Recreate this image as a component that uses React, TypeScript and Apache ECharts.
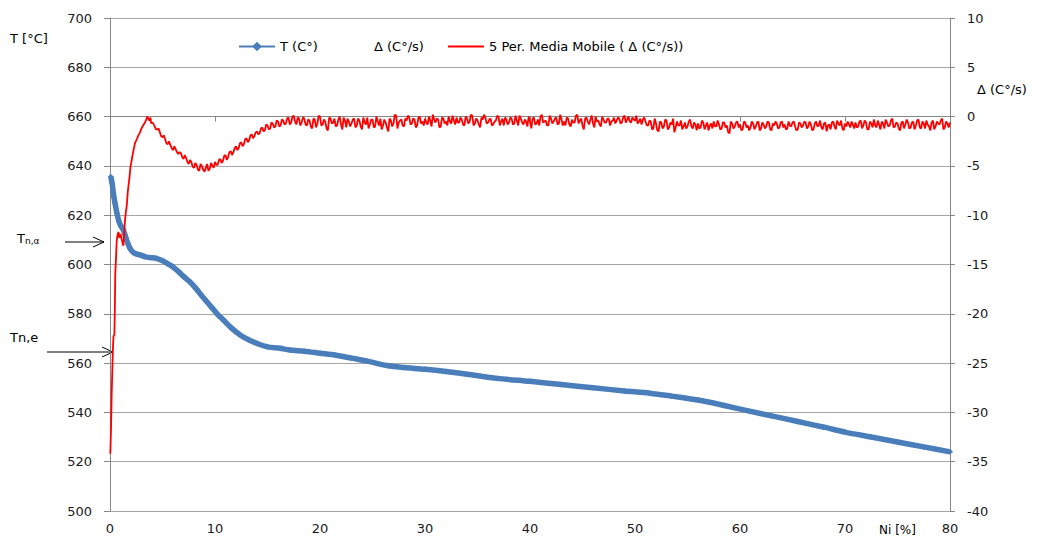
import React, { useEffect, useRef } from "react";
import * as echarts from "echarts";

const FONT = "DejaVu Sans";

// T (C°) vs Ni [%]
const tempSeries: [number, number][] = [
  [0.07, 635.6], [0.2, 633], [0.35, 628], [0.48, 624.8], [0.65, 621], [0.85, 617.5],
  [1.05, 615.5], [1.27, 614], [1.5, 611], [1.7, 608.5], [1.9, 606.6], [2.2, 605],
  [2.5, 604.3], [2.86, 603.9], [3.3, 603.2], [3.8, 602.8], [4.4, 602.5], [5.0, 601.5],
  [5.5, 600.3], [6.0, 599], [6.5, 597.2], [7.0, 595.2], [7.6, 593], [8.2, 590.2],
  [8.7, 587.5], [9.2, 585], [9.7, 582.5], [10.2, 580], [10.8, 577.5], [11.5, 574.5],
  [12.4, 571.4], [13.2, 569.5], [14, 568], [15, 566.6], [16.2, 566], [17.1, 565.3],
  [18.5, 564.8], [20, 564], [21.5, 563.2], [23, 562], [24.5, 560.8], [26.5, 558.9],
  [28, 558.2], [30, 557.5], [32, 556.6], [34, 555.5], [36.9, 553.8], [40, 552.6],
  [43, 551.3], [46, 550], [49, 548.7], [51.4, 547.8], [53.5, 546.6], [56, 545],
  [58.5, 542.8], [60.9, 540.5], [63, 538.6], [65.5, 536.3], [68, 534], [70, 532],
  [72.5, 530], [75, 528], [77.5, 526], [80, 524],
];

// 5 Per. Media Mobile (Δ (C°/s)) – initial transient, irregular samples
const movAvgStart: [number, number][] = [
  [0.03, -34.2], [0.1, -31.5], [0.16, -28.0], [0.22, -25.8], [0.28, -23.5], [0.33, -22.3],
  [0.42, -22.1], [0.46, -19.5], [0.5, -16.0], [0.56, -14.6], [0.64, -12.6], [0.72, -12.0],
  [0.8, -11.7], [0.9, -12.3], [1.0, -11.9], [1.1, -12.4], [1.2, -12.8], [1.27, -13.1],
  [1.35, -11.8], [1.43, -10.5], [1.52, -9.6], [1.6, -9.0], [1.68, -7.8], [1.75, -7.1],
  [1.85, -6.2], [1.95, -5.1], [2.07, -4.4], [2.2, -3.6], [2.38, -2.7], [2.55, -2.3],
  [2.7, -1.9], [2.86, -1.6], [3.0, -1.2], [3.15, -0.9], [3.33, -0.6], [3.45, -0.3],
  [3.55, 0.0], [3.65, -0.2], [3.75, -0.4], [3.85, -0.1], [3.92, -0.7],
];

// 5 Per. Media Mobile – values read every 0.25 Ni from 4.0 to 80
const movAvgFrom = 4.0;
const movAvgStep = 0.25;
const movAvgValues: number[] = [
  -0.6, -1.0, -1.3, -1.6, -2.1, -2.3, -2.8,
  -2.9, -3.4, -3.3, -3.8, -3.7, -4.3, -4.2, -4.8,
  -4.6, -5.2, -4.9, -5.5, -5.0, -5.6, -4.8, -5.3, -5.0, -4.6,
  -4.9, -4.3, -4.5, -3.9, -4.1, -3.5, -3.6, -3.0,
  -3.2, -2.6, -2.8, -2.2, -2.4, -1.8, -2.0, -1.5,
  -1.7, -1.1, -1.4, -0.9, -1.2, -0.7, -1.0, -0.5, -0.9, -0.4,
  -0.7, -0.1, -0.6, 0.1, -0.8, -0.2,
  -0.6, -0.2, -0.9, -0.4, -1.2, -0.3, -0.7, 0.0, -0.8, -0.5, -1.4, -0.2, -0.6, -1.0, -0.3, -0.8, -0.1, -1.1, -0.5, -0.7,
  -0.2, -0.9, -0.4, -1.3, -0.6, -0.1, -0.8, -0.3, -1.0, -0.5, -0.2, -0.9, -0.6, -1.5, -0.4, -0.7, 0.1, -0.6, -0.3, -1.0,
  -0.4, -0.1, -0.7, -0.3, -0.9, 0.0, -0.5, -0.2, -0.8, -0.4, 0.2, -0.6, -0.3, -1.0, -0.2, -0.5, 0.0, -0.7, -0.4, -0.1,
  -0.6, -0.3, -0.9, -0.2, -0.5, 0.1, -0.7, -0.4, -1.1, -0.3, -0.1, -0.6, -0.2, -0.8, -0.4, 0.0, -0.5, -0.9, -0.3, -0.6,
  -0.2, -0.7, -0.4, 0.1, -0.6, -0.3, -1.0, -0.5, -0.2, -0.8, -0.3, 0.0, -0.6, -0.4, -0.9, -0.2, -0.5, -0.1, -0.7, -0.3,
  -0.5, -0.1, -0.8, -0.3, -0.6, 0.2, -0.4, -0.9, -0.2, -0.5, -0.3, -0.7, 0.0, -0.4, -1.0, -0.3, -0.6, -0.2, -0.5, -0.1,
  -0.4, -0.2, -0.6, 0.1, -0.3, -0.5, -0.1, -0.4, -0.7, -0.2, -0.3, -0.5,
  -0.9, -0.5, -1.2, -0.7, -1.5, -0.6, -1.0, -0.4, -1.1, -0.8, -1.6, -0.5, -0.9, -1.3, -0.6, -1.0, -0.3, -1.2, -0.8, -0.7,
  -1.1, -0.6, -0.9, -1.4, -0.7, -0.5, -1.0, -0.8, -1.2, -0.6, -0.9, -1.7, -0.7, -1.0, -0.5, -0.8, -1.3, -0.6, -0.9, -1.1,
  -0.7, -1.0, -0.5, -1.2, -0.8, -1.0, -0.6, -1.4, -0.9, -0.7, -1.1, -0.5, -0.8, -1.2, -0.9, -0.6, -1.0, -1.3, -0.7, -0.9,
  -0.6, -1.0, -0.8, -1.3, -0.5, -0.9, -1.1, -0.7, -1.5, -0.8, -0.6, -1.0, -0.4, -0.9, -1.2, -0.7, -0.5, -1.1, -0.8, -0.6,
  -1.0, -0.4, -0.9, -0.6, -1.3, -0.7, -0.3, -1.1, -0.8, -0.5, -1.2, -0.6, -0.9, -0.2, -1.0, -0.7, -1.4, -0.5, -0.8, -0.6,
  -1.1, -0.5, -0.9, -0.3, -1.2, -0.7, -0.4, -1.0, -0.6, -1.3, -0.5, -0.8, -0.2, -1.1, -0.7, -0.6,
];

// 5 Per. Media Mobile – values read half-way between the samples above
const movAvgMidValues: number[] = [
  -0.7, -1.3, -1.2, -2.0, -1.9, -2.7, -2.5,
  -3.2, -3.0, -3.6, -3.6, -4.1, -3.9, -4.6, -4.4,
  -5.1, -4.7, -5.4, -4.8, -5.4, -5.2, -5.5, -4.7, -5.2, -4.9,
  -4.4, -4.7, -4.0, -4.4, -3.6, -3.9, -3.2, -3.4,
  -2.7, -3.0, -2.3, -2.6, -1.9, -2.2, -1.6, -1.8,
  -1.2, -1.5, -0.8, -1.3, -0.6, -1.1, -0.4, -1.0, -0.3, -0.8,
  -0.2, -0.8, 0.0, -0.5, -0.1, -0.9,
  -0.1, -0.8, -0.3, -1.0, -0.2, -1.1, 0.1, -0.9, -0.3, -1.2, -0.1, -0.7, -0.2, -0.9, 0.0, -1.3, -0.4, -0.2, -1.0, -0.3,
  -1.1, -0.2, -1.0, -0.1, -0.8, -1.2, -0.3, -1.1, 0.0, -0.9, -1.3, -0.3, -1.1, -0.2, -1.0, 0.2, -1.2, -0.4, -0.9, -0.2,
  0.1, -0.8, -0.2, -1.1, -0.1, -0.7, -0.9, -0.6, 0.0, -1.0, -0.3, -0.2, -1.1, -0.1, -0.7, -0.9, -0.5, 0.1, -0.8, -0.6,
  -0.1, -0.8, 0.0, -0.7, 0.2, -0.9, -0.2, -0.8, -0.1, 0.2, -0.7, -0.3, -0.9, -0.5, 0.1, -0.9, -0.2, -0.1, -0.8, -0.1,
  -0.8, 0.1, -0.9, -0.2, -0.8, -0.5, 0.0, -1.2, -0.1, -0.7, -0.9, 0.2, -0.5, -0.9, 0.1, -0.7, -0.2, -0.8, 0.2, -0.9,
  -0.9, -0.2, -1.0, -0.6, 0.1, -0.7, -0.2, -1.3, -0.1, -0.8, 0.1, -1.1, -0.5, -0.8, 0.0, -0.6, -0.2, -0.9, -0.4, -0.7,
  -0.1, -0.7, -0.1, -0.6, 0.0, -0.6, -0.3, 0.1, -0.5, -0.8, -0.1, -0.9,
  -0.4, -1.3, -0.2, -1.4, -0.5, -1.2, -0.3, -1.3, -0.6, -0.2, -1.1, -0.9, -0.4, -1.0, -1.2, -0.5, -1.0, -0.6, -1.4, -1.2,
  -0.4, -1.3, -0.6, -0.9, -1.2, -1.0, -0.4, -1.3, -0.6, -1.1, -1.6, -0.5, -1.2, -0.6, -1.1, -1.4, -0.5, -1.1, -1.4, -0.5,
  -1.3, -0.6, -1.4, -0.6, -1.2, -0.5, -1.3, -0.7, -0.5, -1.2, -0.6, -1.1, -1.3, -0.5, -1.0, -0.5, -1.4, -0.6, -1.1, -0.5,
  -1.2, -0.5, -1.4, -0.7, -1.0, -0.4, -1.3, -0.6, -0.9, -1.3, -0.5, -1.3, -0.7, -0.4, -1.4, -1.0, -0.8, -0.5, -1.2, -1.1,
  -0.5, -1.2, -0.4, -1.3, -0.5, -1.1, -0.9, -0.4, -1.3, -0.7, -0.3, -1.0, -0.4, -1.1, -0.6, -1.2, -0.6, -1.2, -0.3, -1.2,
  -0.6, -1.3, -0.4, -1.1, -0.5, -1.2, -0.8, -1.4, -0.4, -1.0, -0.7, -0.4, -1.3, -0.5, -1.1,
];

const legendNames = ["T (C°)", "Δ (C°/s)", "5 Per. Media Mobile ( Δ (C°/s))"];

const leftAxis = { min: 500, max: 700, interval: 20 };
const rightAxis = { min: -40, max: 10, interval: 5 };
const bottomAxis = { min: 0, max: 80, interval: 10 };

export default function App() {
  const ref = useRef<HTMLDivElement>(null);

  useEffect(() => {
    if (!ref.current) return;
    const chart = echarts.init(ref.current, null, { renderer: "svg" });

    const movAvg: [number, number][] = [...movAvgStart];
    movAvgValues.forEach((v, i) => {
      const x = movAvgFrom + i * movAvgStep;
      movAvg.push([x, v]);
      if (i < movAvgMidValues.length) movAvg.push([x + movAvgStep / 2, movAvgMidValues[i]]);
    });

    const axisGray = "#868686";
    const labelStyle = { fontFamily: FONT, fontSize: 13, color: "#1a1a1a" };
    const legendBase = {
      top: 40,
      padding: 0,
      itemWidth: 36,
      itemHeight: 12,
      textStyle: { fontFamily: FONT, fontSize: 13, color: "#000" },
    };

    chart.setOption({
      animation: false,
      backgroundColor: "#ffffff",
      grid: { left: 110, right: 104, top: 18, bottom: 32, containLabel: false },
      legend: [
        { ...legendBase, left: 238, data: [{ name: legendNames[0] }] },
        {
          ...legendBase,
          left: 332,
          data: [{ name: legendNames[1], itemStyle: { opacity: 0 }, lineStyle: { opacity: 0 } }],
        },
        {
          ...legendBase,
          left: 447,
          data: [{ name: legendNames[2], itemStyle: { opacity: 0 } }],
        },
      ],
      xAxis: {
        type: "value",
        min: bottomAxis.min,
        max: bottomAxis.max,
        interval: bottomAxis.interval,
        axisLine: { show: true, lineStyle: { color: axisGray, width: 1 } },
        axisTick: { show: true, length: 5, lineStyle: { color: axisGray } },
        axisLabel: { ...labelStyle, margin: 11 },
        splitLine: { show: false },
      },
      yAxis: [
        {
          type: "value",
          position: "left",
          min: leftAxis.min,
          max: leftAxis.max,
          interval: leftAxis.interval,
          axisLine: { show: true, lineStyle: { color: axisGray, width: 1 } },
          axisTick: { show: true, length: 6, lineStyle: { color: axisGray } },
          axisLabel: { ...labelStyle, margin: 18 },
          splitLine: { show: true, lineStyle: { color: "#a6a6a6", width: 1 } },
        },
        {
          type: "value",
          position: "right",
          min: rightAxis.min,
          max: rightAxis.max,
          interval: rightAxis.interval,
          axisLine: { show: true, lineStyle: { color: axisGray, width: 1 } },
          axisTick: { show: true, length: 5, lineStyle: { color: axisGray } },
          axisLabel: { ...labelStyle, margin: 17 },
          splitLine: { show: false },
        },
      ],
      series: [
        {
          name: legendNames[0],
          type: "line",
          yAxisIndex: 0,
          data: tempSeries,
          symbol: "diamond",
          symbolSize: 6,
          showAllSymbol: true,
          smooth: 0.3,
          color: "#4a7ebb",
          itemStyle: { color: "#4a7ebb" },
          lineStyle: { color: "#4a7ebb", width: 5.5 },
          z: 2,
        },
        {
          name: legendNames[1],
          type: "line",
          yAxisIndex: 1,
          data: [],
          symbol: "none",
          color: "rgba(0,0,0,0)",
          lineStyle: { opacity: 0 },
        },
        {
          name: legendNames[2],
          type: "line",
          yAxisIndex: 1,
          data: movAvg,
          symbol: "none",
          color: "#ff0000",
          lineStyle: { color: "#ff0000", width: 1.8 },
          z: 3,
        },
      ],
      graphic: [
        {
          type: "text",
          left: 10,
          top: 32,
          style: { text: "T [°C]", fontFamily: FONT, fontSize: 13, fill: "#000" },
        },
        {
          type: "text",
          left: 977,
          top: 83,
          style: { text: "Δ (C°/s)", fontFamily: FONT, fontSize: 13, fill: "#000" },
        },
        {
          type: "text",
          left: 879,
          top: 524,
          style: { text: "Ni [%]", fontFamily: FONT, fontSize: 12, fill: "#000" },
        },
        {
          type: "text",
          left: 17,
          top: 232,
          style: {
            text: "{a|T}{b|n,α}",
            rich: {
              a: { fontFamily: FONT, fontSize: 13, fill: "#000", verticalAlign: "bottom" },
              b: { fontFamily: FONT, fontSize: 9, fill: "#000", verticalAlign: "bottom" },
            },
          },
        },
        {
          type: "text",
          left: 10,
          top: 331,
          style: { text: "Tn,e", fontFamily: FONT, fontSize: 13, fill: "#000" },
        },
        {
          type: "line",
          shape: { x1: 65, y1: 242, x2: 104, y2: 242 },
          style: { stroke: "#000", lineWidth: 1 },
        },
        {
          type: "polyline",
          shape: { points: [[93, 237], [104, 242], [93, 247]] },
          style: { stroke: "#000", lineWidth: 1, fill: "none" },
        },
        {
          type: "line",
          shape: { x1: 47, y1: 352, x2: 113, y2: 352 },
          style: { stroke: "#000", lineWidth: 1 },
        },
        {
          type: "polyline",
          shape: { points: [[102, 347], [113, 352], [102, 357]] },
          style: { stroke: "#000", lineWidth: 1, fill: "none" },
        },
      ],
    });

    return () => chart.dispose();
  }, []);

  return (
    <div
      ref={ref}
      style={{ position: "fixed", left: 0, top: 0, width: 1054, height: 543, background: "#fff" }}
    />
  );
}
